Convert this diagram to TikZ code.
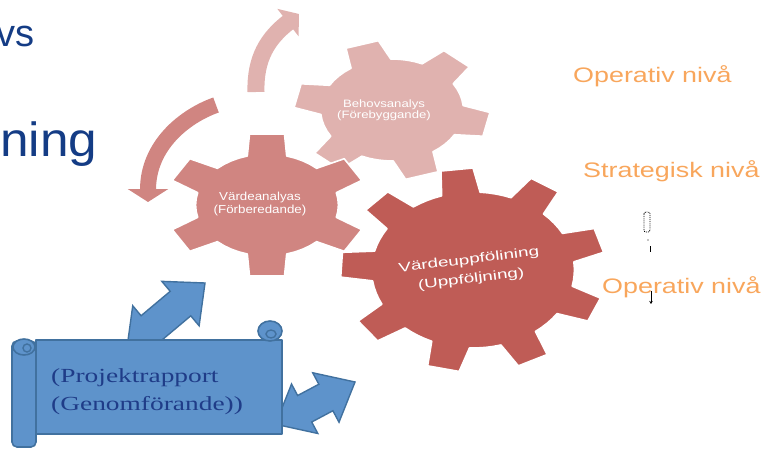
\documentclass[tikz,border=0pt]{standalone}
\usepackage{fontspec}
\setmainfont{Liberation Sans}
\newfontfamily\scrollserif{Liberation Serif}
\usetikzlibrary{arrows.meta}

\definecolor{gearlight}{HTML}{E0B2AF}
\definecolor{gearmid}{HTML}{D08581}
\definecolor{geardark}{HTML}{BF5C56}
\definecolor{scrollfill}{HTML}{5E93CB}
\definecolor{scrollline}{HTML}{41719F}
\definecolor{levelorange}{HTML}{F8A65C}
\definecolor{titlenavy}{HTML}{143C85}
\definecolor{scrolltext}{HTML}{1F3C88}

% horizontally widened text
\newcommand{\widen}[2]{\scalebox{#1}[1]{#2}}

% gear: #1 style, #2 centre, #3 x stretch, #4 teeth, #5 angle of first tooth,
% #6 tip radius, #7 root radius, #8 tip half angle, #9 root half angle
\newcommand{\gearfill}[9]{%
  \begin{scope}[shift={#2}, xscale=#3, yscale=-1]
    \pgfmathsetmacro{\gpitch}{360/#4}
    \pgfmathsetmacro{\ggap}{\gpitch-2*#9}
    \filldraw[#1] ({#5-#9}:#7)
      \foreach \k in {1,...,#4}{
        -- ({#5+(\k-1)*\gpitch-#9}:#7)
        -- ({#5+(\k-1)*\gpitch-#8}:#6)
        -- ({#5+(\k-1)*\gpitch+#8}:#6)
        -- ({#5+(\k-1)*\gpitch+#9}:#7)
        -- ({#5+(\k-1)*\gpitch+#9+0.25*\ggap}:#7)
        -- ({#5+(\k-1)*\gpitch+#9+0.5*\ggap}:#7)
        -- ({#5+(\k-1)*\gpitch+#9+0.75*\ggap}:#7)
      } -- cycle;
  \end{scope}}

% double block arrow: #1 front tip, #2 direction, #3 length,
% #4 head length, #5 head half width, #6 shaft half width
\newcommand{\doublearrow}[6]{%
  \begin{scope}[shift={#1}, rotate=#2]
    \filldraw[linkarrow] (0,0) -- (-#4,-#5) -- (-#4,-#6) -- (-#3+#4,-#6)
      -- (-#3+#4,-#5) -- (-#3,0) -- (-#3+#4,#5) -- (-#3+#4,#6)
      -- (-#4,#6) -- (-#4,#5) -- cycle;
  \end{scope}}

\begin{document}
\begin{tikzpicture}[x=1pt,y=-1pt,
  gearbody/.style={fill=#1, draw=white, line width=1.6pt, line join=round},
  geartext/.style={text=white, align=center, inner sep=0pt},
  level/.style={text=levelorange, anchor=base west, inner sep=0pt,
    font=\fontsize{21}{25}\selectfont},
  heading/.style={text=titlenavy, anchor=base west, inner sep=0pt},
  scrollbody/.style={fill=scrollfill, draw=scrollline, line width=1.6pt, line join=round},
  linkarrow/.style={fill=scrollfill, draw=scrollline, line width=1.4pt, line join=miter},
  scrolllabel/.style={text=scrolltext, anchor=base west, inner sep=0pt,
    font=\scrollserif\fontsize{20}{24}\selectfont}]

\useasboundingbox (0,0) rectangle (762,449);
\clip (0,0) rectangle (762,449);

% title fragments at the left edge
\node[heading, font=\fontsize{38}{44}\selectfont] (titleA) at (-3.5,47) {vs};
\node[heading, font=\fontsize{48}{56}\selectfont] (titleB) at (0,157) {\widen{1.07}{ning}};

% curved cycle arrows
\draw[gearlight, line width=17pt, -{Triangle[length=14pt,width=34pt]}]
  (256,92) .. controls (255,58) and (268,38) .. (299,14);
\draw[gearmid, line width=16pt, -{Triangle[length=13pt,width=40pt]}]
  (216,105) .. controls (185,116) and (148,145) .. (148,202);

% gears
\gearfill{gearbody=gearlight}{(392,110)}{1.4}{6}{-12}{70}{51}{10}{17}
\gearfill{gearbody=geardark}{(473,270)}{1.3}{9}{17}{102}{78}{7}{11}
\gearfill{gearbody=gearmid}{(267,205)}{1.4}{6}{30}{72}{51}{10}{16}

\node[geartext, font=\fontsize{10.7}{11.5}\selectfont] (behov) at (384,110)
  {\widen{1.23}{Behovsanalys}\\\widen{1.23}{(Förebyggande)}};
\node[geartext, font=\fontsize{11.6}{13}\selectfont] (varde) at (260,204)
  {\widen{1.15}{Värdeanalyas}\\\widen{1.15}{(Förberedande)}};
\node[geartext, rotate=7, font=\fontsize{13}{19}\selectfont] (uppfolj) at (470,270)
  {\widen{1.45}{Värdeuppfölining}\\\widen{1.45}{(Uppföljning)}};

% level labels
\node[level] (opA) at (573,83) {\widen{1.28}{Operativ nivå}};
\node[level] (strat) at (583,178) {\widen{1.28}{Strategisk nivå}};
\node[level] (opB) at (602,293) {\widen{1.28}{Operativ nivå}};

% small marks beside the labels
\draw[black, densely dotted, line width=0.9pt, rounded corners=2] (644,212) rectangle (650,232);
\fill[black] (648,240) circle (0.7);
\draw[black, line width=0.8pt] (650,246) -- (650,252);
\draw[black, line width=0.8pt, -{Stealth[length=3pt,width=3.5pt]}] (651,291) -- (651,304);

% blue double arrows behind the scroll
\doublearrow{(205,283)}{40}{102}{32}{29}{16}
\doublearrow{(355,382)}{28}{90}{33}{28}{15}

% scroll
\filldraw[scrollbody, rounded corners=5] (12,341) rectangle (36,447);
\filldraw[scrollbody] (36,340) rectangle (282,434);
\filldraw[scrollbody] (24,347) ellipse [x radius=11, y radius=8];
\draw[scrollline, line width=1.4pt] (27,348) circle (4);
\filldraw[scrollbody] (270,331) ellipse [x radius=12, y radius=10];
\draw[scrollline, line width=1.4pt] (271,334) ellipse [x radius=5, y radius=4];

\node[scrolllabel] (projA) at (51,382) {\widen{1.37}{(Projektrapport}};
\node[scrolllabel] (projB) at (51,410) {\widen{1.37}{(Genomförande))}};

\end{tikzpicture}
\end{document}
